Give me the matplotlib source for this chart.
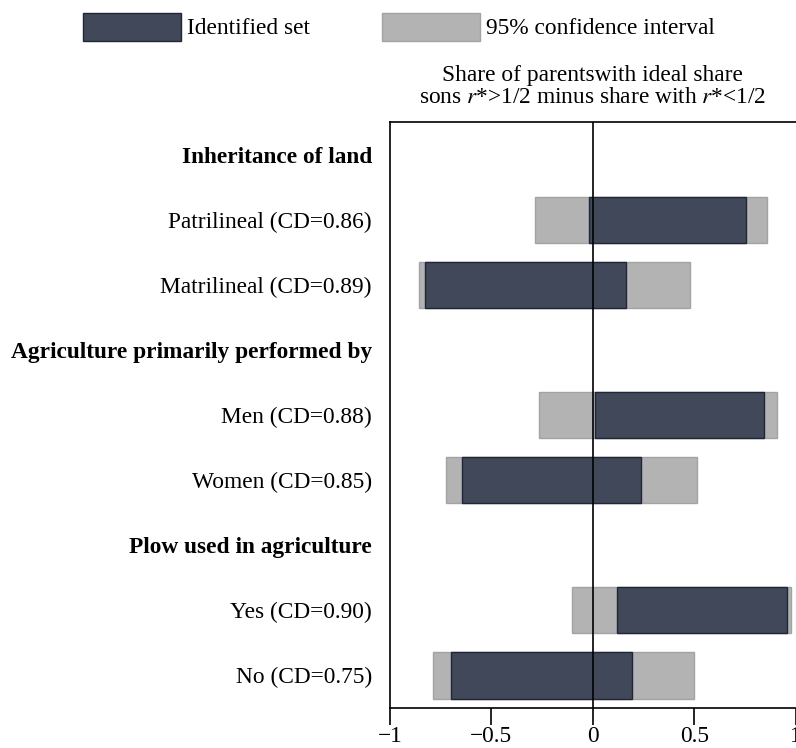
import matplotlib

matplotlib.use("Agg")
import matplotlib.patches as mpatches
import matplotlib.pyplot as plt

_DARK = "#414859"
_DARK_EDGE = "#1f2636"
_GRAY = "#b3b3b3"
_GRAY_EDGE = "#a3a3a3"

# rows from top to bottom; headers have no bars
row_labels = [
    "Inheritance of land",
    "Patrilineal (CD=0.86)",
    "Matrilineal (CD=0.89)",
    "Agriculture primarily performed by",
    "Men (CD=0.88)",
    "Women (CD=0.85)",
    "Plow used in agriculture",
    "Yes (CD=0.90)",
    "No (CD=0.75)",
]
is_header = [True, False, False, True, False, False, True, False, False]

id_low = [None, -0.02, -0.83, None, 0.013, -0.647, None, 0.117, -0.701]
id_high = [None, 0.756, 0.164, None, 0.843, 0.238, None, 0.956, 0.195]
ci_low = [None, -0.287, -0.857, None, -0.266, -0.723, None, -0.103, -0.787]
ci_high = [None, 0.858, 0.481, None, 0.907, 0.513, None, 0.977, 0.497]

FS = 16.8

plt.rcParams["font.family"] = ["Liberation Serif", "DejaVu Serif"]
plt.rcParams["mathtext.fontset"] = "stix"

fig = plt.figure(figsize=(7.96, 7.48), dpi=100)
ax = fig.add_axes([0.49, 0.0535, 0.5095, 0.7834])

ys = list(range(len(row_labels)))
for y, h, a, b, c, d in zip(ys, is_header, ci_low, ci_high, id_low, id_high):
    if h:
        continue
    ax.barh(y, b - a, left=a, height=0.71, color=_GRAY,
            edgecolor=_GRAY_EDGE, linewidth=1.0, zorder=2)
    ax.barh(y, d - c, left=c, height=0.71, color=_DARK,
            edgecolor=_DARK_EDGE, linewidth=1.0, zorder=3)

ax.axvline(0, color="black", linewidth=1.2, zorder=4)

ax.set_xlim(-1, 1)
ax.set_ylim(len(row_labels) - 0.5, -0.5)
ax.set_xticks([-1, -0.5, 0, 0.5, 1])
ax.set_xticklabels(["\u22121", "\u22120.5", "0", "0.5", "1"])
ax.tick_params(axis="x", direction="out", length=12, width=1.2,
               labelsize=FS, pad=1)
ax.set_yticks(ys)
ax.set_yticklabels(row_labels)
ax.tick_params(axis="y", length=0, labelsize=FS, pad=13)
for lbl, h in zip(ax.get_yticklabels(), is_header):
    if h:
        lbl.set_fontweight("bold")

for side in ["left", "bottom", "top"]:
    ax.spines[side].set_linewidth(1.2)
ax.spines["right"].set_visible(False)

ax.set_title("Share of parentswith ideal share\n"
             "sons $r$*>1/2 minus share with $r$*<1/2",
             fontsize=FS, linespacing=1.05, pad=14)

handles = [
    mpatches.Patch(facecolor=_DARK, edgecolor=_DARK_EDGE, label="Identified set"),
    mpatches.Patch(facecolor=_GRAY, edgecolor=_GRAY_EDGE,
                   label="95% confidence interval"),
]
fig.legend(handles=handles, loc="upper left", bbox_to_anchor=(0.088, 1.0),
           ncol=2, frameon=False, fontsize=FS, handlelength=4.2,
           handleheight=1.45, handletextpad=0.25, columnspacing=3.1,
           borderaxespad=0.15)

fig.savefig("out.png", dpi=100)
